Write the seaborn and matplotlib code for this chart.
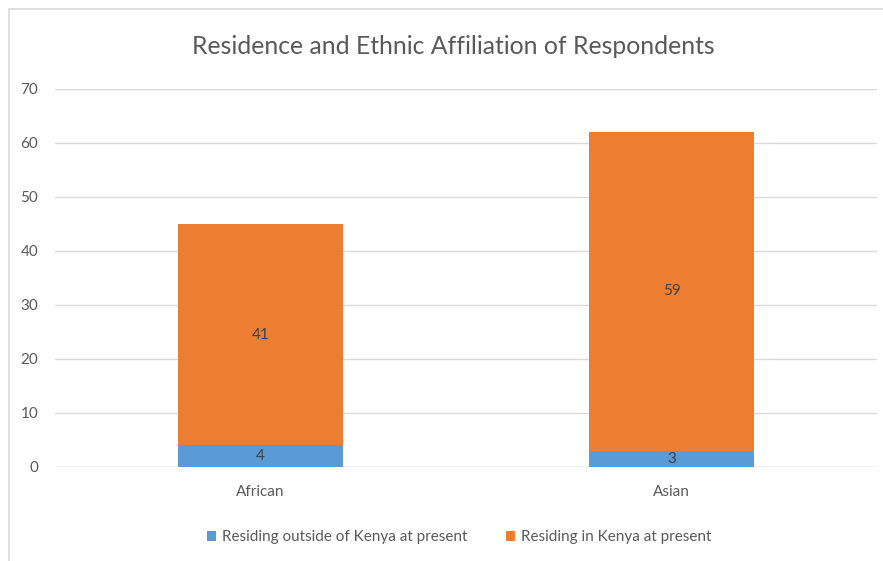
import matplotlib
matplotlib.use("Agg")
import matplotlib.pyplot as plt
import seaborn as sns
import pandas as pd
from matplotlib.patches import Patch
from matplotlib.lines import Line2D

categories = ["African", "Asian"]
outside_kenya = [4, 3]
in_kenya = [41, 59]
series_names = ["Residing outside of Kenya at present", "Residing in Kenya at present"]
y_ticks = [0, 10, 20, 30, 40, 50, 60, 70]

BLUE = "#5B9BD5"
ORANGE = "#ED7D31"
TEXT = "#595959"
GRID = "#D9D9D9"

sns.set_theme(style="white")
plt.rcParams["font.family"] = ["Lato", "DejaVu Sans"]

df = pd.DataFrame({
    "category": categories,
    "outside": outside_kenya,
    "inside": in_kenya,
})
df["total"] = df["outside"] + df["inside"]

fig = plt.figure(figsize=(8.83, 5.61), dpi=100)
ax = fig.add_axes([0.0623, 0.1676, 0.9309, 0.6738])

# stacked bars: full height in orange, lower segment in blue on top
sns.barplot(data=df, x="category", y="total", color=ORANGE, saturation=1,
            width=0.4, linewidth=0, ax=ax, zorder=3)
sns.barplot(data=df, x="category", y="outside", color=BLUE, saturation=1,
            width=0.4, linewidth=0, ax=ax, zorder=4)

for i, (o, n) in enumerate(zip(outside_kenya, in_kenya)):
    ax.text(i, o / 2, str(o), ha="center", va="center", fontsize=11,
            color="#404040", zorder=5)
    ax.text(i, o + n / 2, str(n), ha="center", va="center", fontsize=11,
            color="#404040", zorder=5)

ax.set_xlim(-0.5, 1.5)
ax.set_ylim(0, 70)
ax.set_yticks(y_ticks)
ax.set_yticklabels([str(t) for t in y_ticks])
ax.yaxis.grid(True, color=GRID, linewidth=1)
ax.set_axisbelow(True)
for s in ax.spines.values():
    s.set_visible(False)
ax.axhline(0, color=GRID, linewidth=1, zorder=2)
ax.set_xlabel("")
ax.set_ylabel("")
ax.tick_params(axis="y", length=0, pad=12, labelsize=11, labelcolor=TEXT)
ax.tick_params(axis="x", length=0, pad=13, labelsize=11, labelcolor=TEXT)

fig.suptitle("Residence and Ethnic Affiliation of Respondents", x=0.513,
             y=0.918, va="center", fontsize=17.8, color=TEXT)

handles = [Patch(facecolor=BLUE, edgecolor="none"),
           Patch(facecolor=ORANGE, edgecolor="none")]
fig.legend(handles, series_names, loc="center", bbox_to_anchor=(0.52, 0.042),
           ncol=2, frameon=False, fontsize=11, labelcolor=TEXT,
           handlelength=0.6, handleheight=0.6, handletextpad=0.4,
           columnspacing=2.5)

# chart area border (left and top edges)
fig.add_artist(Line2D([0.0102, 0.0102], [0, 0.984], transform=fig.transFigure,
                      color=GRID, linewidth=1.2))
fig.add_artist(Line2D([0.0102, 1.0], [0.984, 0.984], transform=fig.transFigure,
                      color=GRID, linewidth=1.2))

fig.savefig("out.png", dpi=100, facecolor="white")
